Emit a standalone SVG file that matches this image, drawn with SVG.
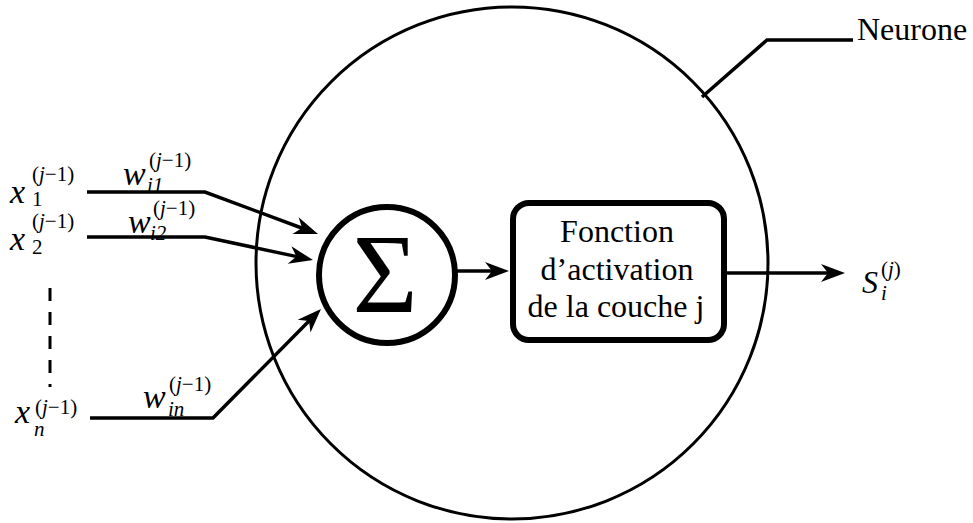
<svg xmlns="http://www.w3.org/2000/svg" width="973" height="523" viewBox="0 0 973 523" font-family="Liberation Serif">
<g id="neurone">
<circle cx="512" cy="263" r="256" fill="none" stroke="#000" stroke-width="3"/>
<text x="857" y="40" font-size="32" font-family="Liberation Serif">Neurone</text>
</g>
<g id="sum">
<circle cx="387" cy="275" r="68" fill="#fff" stroke="#000" stroke-width="6"/>
<text x="385" y="312" font-size="112" font-family="Liberation Serif" text-anchor="middle">&#931;</text>
</g>
<g id="activation">
<rect x="513" y="203" width="211" height="137" rx="16" fill="#fff" stroke="#000" stroke-width="6"/>
<text x="617" y="242" font-family="Liberation Serif" font-size="32" text-anchor="middle">Fonction</text>
<text x="617" y="280" font-family="Liberation Serif" font-size="32" text-anchor="middle">d&#8217;activation</text>
<text x="616" y="317" font-family="Liberation Serif" font-size="32" text-anchor="middle">de la couche j</text>
</g>
<g id="x1">
<text x="10" y="203" font-family="Liberation Serif" font-size="34" font-style="italic">x</text>
<text x="32" y="181" font-family="Liberation Serif" font-size="21">(<tspan font-style="italic">j</tspan>&#8722;1)</text>
<text x="32" y="206" font-family="Liberation Serif" font-size="21">1</text>
</g>
<g id="x2">
<text x="10" y="250" font-family="Liberation Serif" font-size="34" font-style="italic">x</text>
<text x="32" y="228" font-family="Liberation Serif" font-size="21">(<tspan font-style="italic">j</tspan>&#8722;1)</text>
<text x="32" y="254" font-family="Liberation Serif" font-size="21">2</text>
</g>
<g id="xn">
<text x="15" y="423" font-family="Liberation Serif" font-size="34" font-style="italic">x</text>
<text x="35" y="414" font-family="Liberation Serif" font-size="21">(<tspan font-style="italic">j</tspan>&#8722;1)</text>
<text x="34" y="436" font-family="Liberation Serif" font-size="21" font-style="italic">n</text>
</g>
<g id="w1">
<text x="123" y="185" font-family="Liberation Serif" font-size="34" font-style="italic">w</text>
<text x="149" y="167" font-family="Liberation Serif" font-size="21">(<tspan font-style="italic">j</tspan>&#8722;1)</text>
<text x="147" y="192" font-family="Liberation Serif" font-size="21" font-style="italic">i1</text>
</g>
<g id="w2">
<text x="128" y="233" font-family="Liberation Serif" font-size="34" font-style="italic">w</text>
<text x="153" y="215" font-family="Liberation Serif" font-size="21">(<tspan font-style="italic">j</tspan>&#8722;1)</text>
<text x="150" y="240" font-family="Liberation Serif" font-size="21" font-style="italic">i2</text>
</g>
<g id="wn">
<text x="143" y="408" font-family="Liberation Serif" font-size="34" font-style="italic">w</text>
<text x="169" y="391" font-family="Liberation Serif" font-size="21">(<tspan font-style="italic">j</tspan>&#8722;1)</text>
<text x="168" y="416" font-family="Liberation Serif" font-size="21" font-style="italic">in</text>
</g>
<g id="output">
<text x="862" y="293" font-family="Liberation Serif" font-size="32" font-style="italic">S</text>
<text x="881" y="276" font-family="Liberation Serif" font-size="21">(<tspan font-style="italic">j</tspan>)</text>
<text x="881" y="300" font-family="Liberation Serif" font-size="21" font-style="italic">i</text>
</g>
<g id="connectors" fill="none" stroke="#000" stroke-width="3.5">
<polyline points="87,192 205,192 303,228.5"/>
<polygon points="318,234 298.6,217.2 302.1,228.1 292.4,234.1" fill="#000" stroke="none"/>
<polyline points="87,237 205,237 297,256.6"/>
<polygon points="313,260 291.4,246.2 296.4,256.5 287.7,263.8" fill="#000" stroke="none"/>
<polyline points="90,418 213,418 309.5,320.6"/>
<polygon points="321,309 310.5,332.4 309,321.1 297.7,319.7" fill="#000" stroke="none"/>
<line x1="50" y1="288" x2="50" y2="387" stroke-width="3" stroke-dasharray="13,11"/>
<line x1="457" y1="271" x2="493" y2="271"/>
<polygon points="509,271 485,262 492,271 485,280" fill="#000" stroke="none"/>
<line x1="727" y1="273" x2="829" y2="273"/>
<polygon points="845,273 821,264 828,273 821,282" fill="#000" stroke="none"/>
<polyline points="702,97 767,40 853,40"/>
</g>
</svg>
